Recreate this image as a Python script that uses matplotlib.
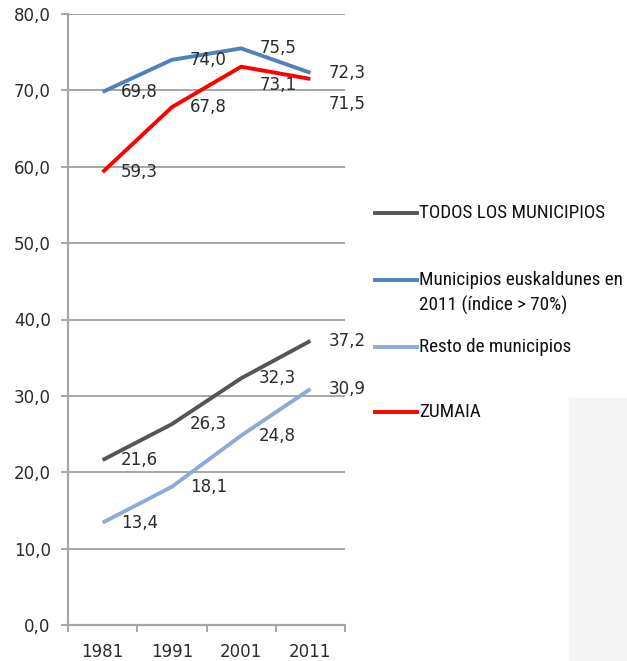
import matplotlib
matplotlib.use("Agg")
import matplotlib.pyplot as plt
from matplotlib.lines import Line2D
from matplotlib.patches import Rectangle
from matplotlib import font_manager as fm

plt.rcParams["font.family"] = ["DejaVu Sans"]

years = ["1981", "1991", "2001", "2011"]
series_names = ["TODOS LOS MUNICIPIOS",
                "Municipios euskaldunes en\n2011 (índice > 70%)",
                "Resto de municipios",
                "ZUMAIA"]
todos = [21.6, 26.3, 32.3, 37.2]
euskaldunes = [69.8, 74.0, 75.5, 72.3]
resto = [13.4, 18.1, 24.8, 30.9]
zumaia = [59.3, 67.8, 73.1, 71.5]
yticks = [0, 10, 20, 30, 40, 50, 60, 70, 80]

colors = ["#555555", "#4f81bd", "#8eaadb", "#ff0000"]
all_series = [todos, euskaldunes, resto, zumaia]
# vertical nudges (points) for a couple of labels to avoid overlap
nudges = {(3, 2): -13, (3, 3): -18}


def pick_condensed():
    prefs = ["Roboto Condensed", "Liberation Sans Narrow", "Arial Narrow",
             "Open Sans Condensed", "DejaVu Sans Condensed"]
    fl = fm.fontManager.ttflist
    for p in prefs:
        for f in fl:
            if f.name == p and f.weight in (400, "normal", "regular") and f.style == "normal":
                return fm.FontProperties(fname=f.fname), True
    for f in fl:
        if (f.stretch in ("condensed", "semi-condensed") or "Condensed" in f.fname
                or "Narrow" in f.fname) and f.style == "normal" and f.weight in (400, "normal", "regular") \
                and "Sans" in f.name:
            return fm.FontProperties(fname=f.fname), True
    return fm.FontProperties(family="Roboto"), False


leg_fp, condensed = pick_condensed()
leg_size = 13.8 if condensed else 11.5
leg_fp.set_size(leg_size)

fig = plt.figure(figsize=(6.27, 6.61), dpi=100)
fig.patch.set_facecolor("white")
fig.add_artist(Rectangle((569 / 627, 0), 58 / 627, (661 - 398) / 661,
                         transform=fig.transFigure, color="#f5f5f5", zorder=0))

ax = fig.add_axes([68 / 627, (661 - 625) / 661, (345 - 68) / 627, (625 - 14) / 661])
ax.set_facecolor("none")
x = list(range(len(years)))
grid_c = "#a6a6a6"
txt_c = "#2b2b2b"

for yv in yticks[1:]:
    ax.axhline(yv, color=grid_c, lw=1.4, zorder=1)

for i in range(4):
    ax.plot(x, all_series[i], color=colors[i], lw=2.8, solid_capstyle="butt", zorder=3)
    for j, v in enumerate(all_series[i]):
        dy = nudges.get((i, j), 0)
        ax.annotate(f"{v:.1f}".replace(".", ","), (j, v), xytext=(13, dy),
                    textcoords="offset points", ha="left", va="center",
                    fontsize=12, color=txt_c, zorder=4)

ax.set_xlim(-0.5, 3.5)
ax.set_ylim(0, 80)
ax.set_yticks(yticks)
ax.set_yticklabels([f"{v:.1f}".replace(".", ",") for v in yticks])
ax.set_xticks([-0.5, 0.5, 1.5, 2.5, 3.5])
ax.set_xticklabels([])
ax.set_xticks(x, minor=True)
ax.set_xticklabels(years, minor=True)
ax.tick_params(axis="x", which="major", length=5, width=1.4, color=grid_c, direction="out")
ax.tick_params(axis="x", which="minor", length=0, pad=13, labelsize=12, labelcolor=txt_c)
ax.tick_params(axis="y", length=5, width=1.4, color=grid_c, pad=7.5, labelsize=12, labelcolor=txt_c)
for s in ["top", "right"]:
    ax.spines[s].set_visible(False)
for s in ["left", "bottom"]:
    ax.spines[s].set_color(grid_c)
    ax.spines[s].set_linewidth(1.6)

# legend drawn manually
leg_y = [213, 280, 347, 412]
for i, name in enumerate(series_names):
    yf = (661 - leg_y[i]) / 661
    fig.add_artist(Line2D([375 / 627, 417 / 627], [yf, yf], color=colors[i], lw=2.8,
                          transform=fig.transFigure))
    lines = name.split("\n")
    for k, ln in enumerate(lines):
        fig.text(419 / 627, (661 - leg_y[i] - 25 * k) / 661, ln, ha="left", va="center",
                 fontproperties=leg_fp, color="#111111")

fig.savefig("out.png", dpi=100)
